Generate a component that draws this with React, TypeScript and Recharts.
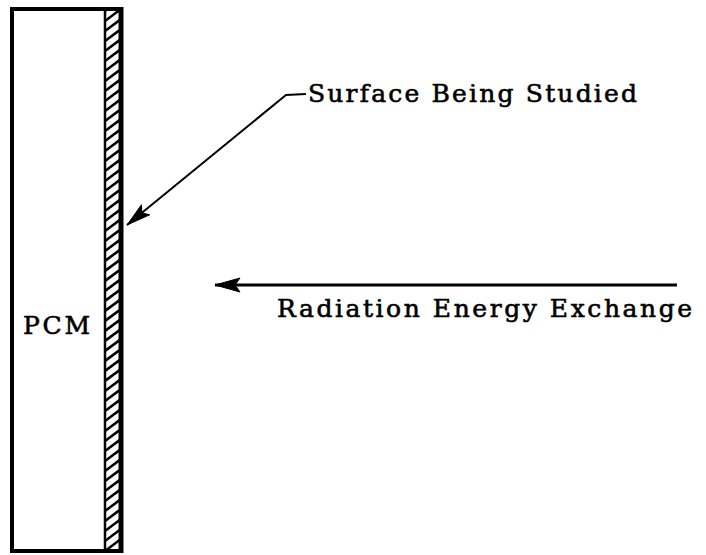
import React from 'react';
import { ComposedChart, XAxis, YAxis, Line, ReferenceArea, ReferenceDot } from 'recharts';

const W = 706;
const H = 555;

// Diagram geometry (in reference pixel units)
const boxX = [12, 121];
const boxY = [9, 551];
const surfaceX = [105, 121];
const leaderX = [306, 286, 127];
const leaderY = [94, 95, 225];
const radiationX = [677, 215];
const radiationY = [285, 285];
const labelText = ['Surface Being Studied', 'Radiation Energy Exchange', 'PCM'];
const labelX = [308, 277, 23];
const labelY = [102, 317, 334];
const labelWidth = [329, 415, 67];

const leaderData = leaderX.map((x, i) => ({ x, y: leaderY[i] }));
const radiationData = radiationX.map((x, i) => ({ x, y: radiationY[i] }));

const FONT = "'DejaVu Serif', 'Liberation Serif', serif";

const arrowHead = (fx: number, fy: number, tx: number, ty: number, len: number, half: number) =>
  (props: any) => {
    const { cx, cy } = props;
    const dx = tx - fx;
    const dy = ty - fy;
    const n = Math.hypot(dx, dy) || 1;
    const ux = dx / n;
    const uy = dy / n;
    const px = -uy;
    const py = ux;
    const bx = cx - ux * len;
    const by = cy - uy * len;
    const nx = cx - ux * len * 0.8;
    const ny = cy - uy * len * 0.8;
    const pts = [
      [cx, cy],
      [bx + px * half, by + py * half],
      [nx, ny],
      [bx - px * half, by - py * half],
    ]
      .map((p) => p.join(','))
      .join(' ');
    return <polygon points={pts} fill="#000" stroke="#000" strokeWidth={1} />;
  };

const boxShape = (props: any) => {
  const { x, y, width, height } = props;
  return <rect x={x} y={y} width={width} height={height} fill="none" stroke="#000" strokeWidth={4} />;
};

const hatchShape = (props: any) => {
  const { x, y, width, height } = props;
  const lines = [];
  const pitch = 10;
  const rise = 12;
  for (let k = -2; k <= Math.ceil(height / pitch) + 2; k++) {
    const y0 = y + k * pitch;
    lines.push(
      <line key={k} x1={x} y1={y0 + rise} x2={x + width} y2={y0} stroke="#000" strokeWidth={2.6} />
    );
  }
  return (
    <g>
      <defs>
        <clipPath id="hatch-clip">
          <rect x={x} y={y} width={width} height={height} />
        </clipPath>
      </defs>
      <g clipPath="url(#hatch-clip)">{lines}</g>
      <line x1={x} y1={y} x2={x} y2={y + height} stroke="#000" strokeWidth={2.5} />
      <line x1={x + width} y1={y - 2} x2={x + width} y2={y + height + 2} stroke="#000" strokeWidth={5} />
    </g>
  );
};

const textShape = (i: number) => (props: any) => (
  <text
    x={props.cx}
    y={props.cy}
    textLength={labelWidth[i]}
    lengthAdjust="spacing"
    fontFamily={FONT}
    fontSize={25}
    fill="#000"
    stroke="#000"
    strokeWidth={0.6}
  >
    {labelText[i]}
  </text>
);

export default function App() {
  return (
    <div style={{ position: 'absolute', left: 0, top: 0, width: W, height: H, background: '#fff' }}>
      <ComposedChart width={W} height={H} margin={{ top: 0, right: 0, bottom: 0, left: 0 }}>
        <XAxis type="number" dataKey="x" domain={[0, W]} hide allowDataOverflow />
        <YAxis type="number" dataKey="y" domain={[0, H]} reversed hide allowDataOverflow />
        <ReferenceArea x1={boxX[0]} x2={boxX[1]} y1={boxY[0]} y2={boxY[1]} shape={boxShape} />
        <ReferenceArea x1={surfaceX[0]} x2={surfaceX[1]} y1={boxY[0]} y2={boxY[1]} shape={hatchShape} />
        <Line
          data={leaderData}
          dataKey="y"
          type="linear"
          stroke="#000"
          strokeWidth={2}
          dot={false}
          activeDot={false}
          isAnimationActive={false}
        />
        <Line
          data={radiationData}
          dataKey="y"
          type="linear"
          stroke="#000"
          strokeWidth={3}
          dot={false}
          activeDot={false}
          isAnimationActive={false}
        />
        <ReferenceDot
          x={leaderX[2]}
          y={leaderY[2]}
          shape={arrowHead(leaderX[1], leaderY[1], leaderX[2], leaderY[2], 24, 6.5)}
        />
        <ReferenceDot
          x={radiationX[1]}
          y={radiationY[1]}
          shape={arrowHead(radiationX[0], radiationY[0], radiationX[1], radiationY[1], 25, 7)}
        />
        {labelText.map((t, i) => (
          <ReferenceDot key={t} x={labelX[i]} y={labelY[i]} shape={textShape(i)} />
        ))}
      </ComposedChart>
    </div>
  );
}
